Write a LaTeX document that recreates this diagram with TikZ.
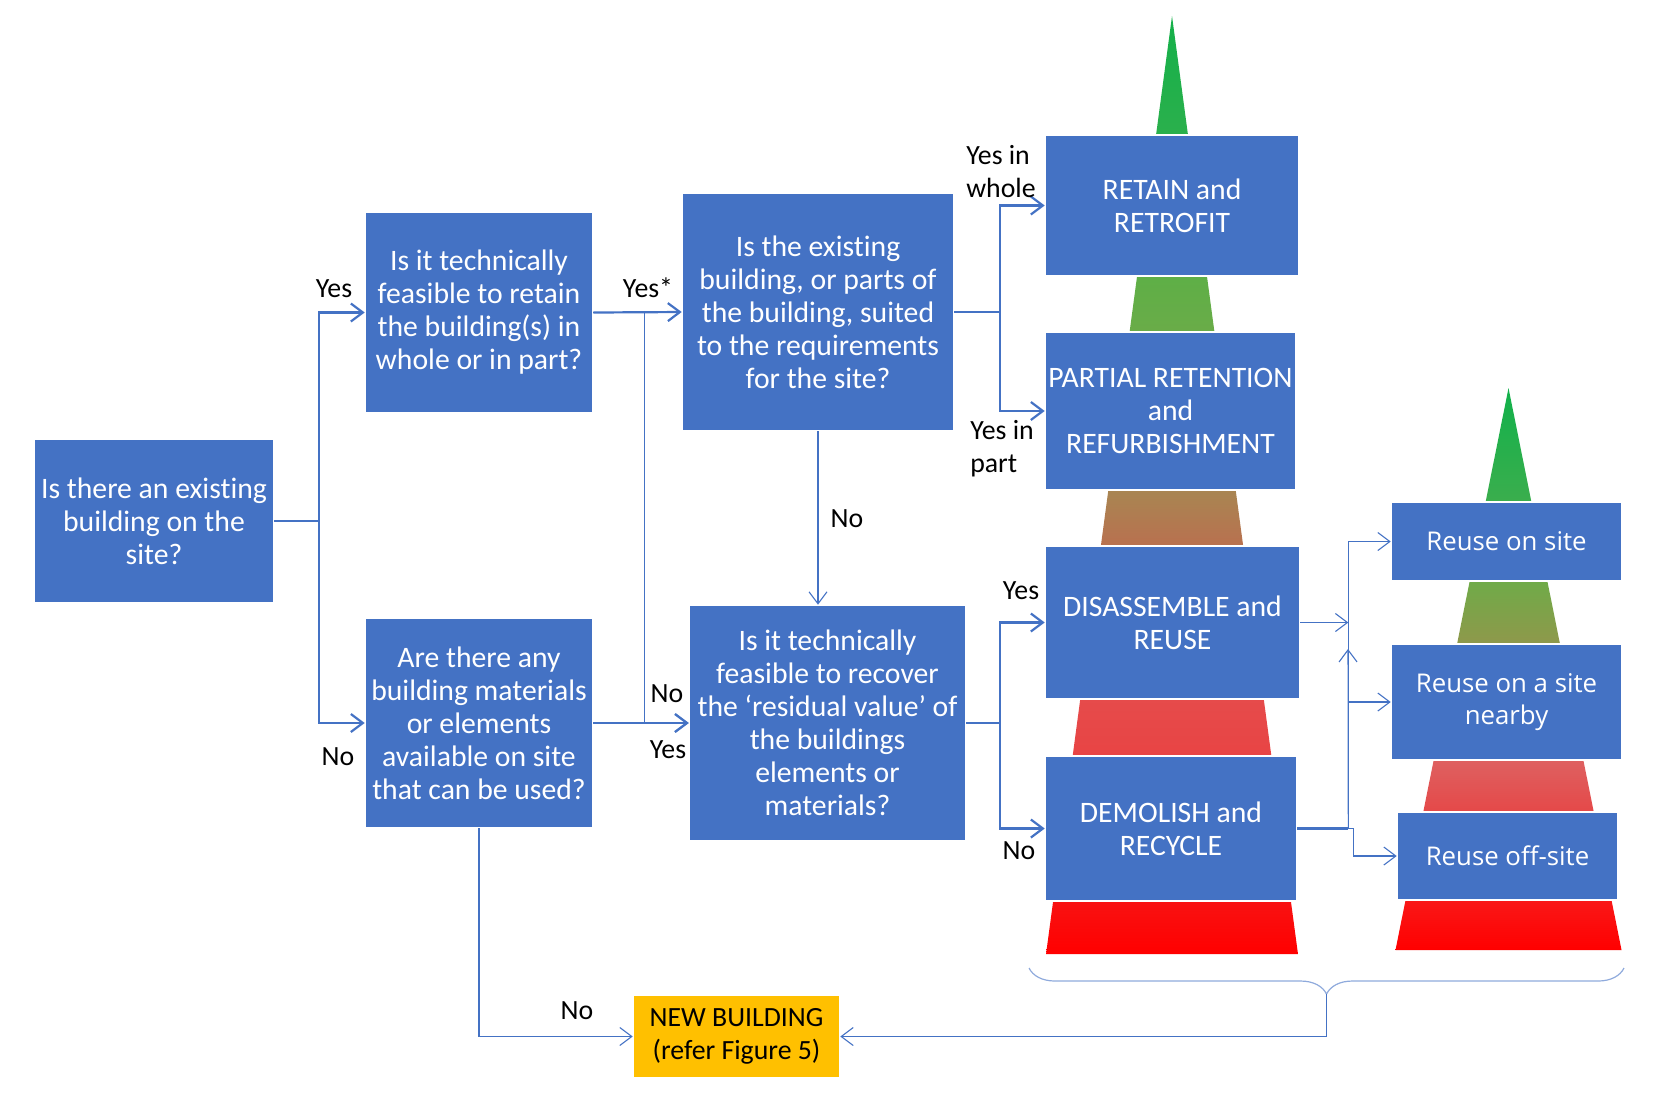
\documentclass[tikz,border=0pt]{standalone}
\usepackage{fontspec}
\setmainfont{Carlito}[Ligatures=NoCommon]
\newfontfamily\reusefont{Open Sans}
\usetikzlibrary{arrows.meta, decorations.pathreplacing}

\definecolor{boxblue}{HTML}{4472C4}
\definecolor{lineblue}{HTML}{4472C4}
\definecolor{braceblue}{HTML}{8FAADC}
\definecolor{newyellow}{HTML}{FFC000}

\begin{document}
\begin{tikzpicture}[x=0.5pt, y=-0.5pt,
  >={Straight Barb[length=6pt,width=9pt]},
  qbox/.style={fill=boxblue, draw=black!15, double=white, double distance=0.8pt, line width=0.3pt,
    text=white, align=center, inner sep=0pt, font=\fontsize{14.85}{16.5}\selectfont},
  rbox/.style={qbox, font=\reusefont\fontsize{12.9}{16}\selectfont},
  nbox/.style={qbox, fill=newyellow, text=black, font=\fontsize{13.9}{16.5}\selectfont},
  lbl/.style={inner sep=0pt, align=left, font=\fontsize{13.9}{16.5}\selectfont},
  flow/.style={draw=lineblue, line width=1.1pt},
  thinflow/.style={draw=lineblue, line width=0.55pt},
  bracket/.style={draw=braceblue, line width=0.6pt, decorate, decoration={brace, mirror, amplitude=13pt}}]
\useasboundingbox (0,0) rectangle (1668,1100);

% pyramids behind the boxes
\foreach \ya/\yb/\ct/\cb in {16/136/14B04A/2BB04C, 275/333/5EAF47/6AAC48, 489/547/A88652/B9704F,
    698/757/E64B4B/E84444, 900/954/F81212/FF0000}{
  \definecolor{segtop}{HTML}{\ct}\definecolor{segbot}{HTML}{\cb}
  \shade[top color=segtop, bottom color=segbot]
    ({1172-0.1343*(\ya-16)},\ya) -- ({1172+0.1343*(\ya-16)},\ya)
    -- ({1172+0.1343*(\yb-16)},\yb) -- ({1172-0.1343*(\yb-16)},\yb) -- cycle;
}
\foreach \ya/\yb/\ct/\cb in {388/503/11B14B/3BAE4D, 580/645/6FAB48/8F984B,
    759/813/DE6161/E54848, 899/950/F91818/FF0000}{
  \definecolor{segtop}{HTML}{\ct}\definecolor{segbot}{HTML}{\cb}
  \shade[top color=segtop, bottom color=segbot]
    ({1508.5-0.2011*(\ya-388)},\ya) -- ({1508.5+0.2011*(\ya-388)},\ya)
    -- ({1508.5+0.2011*(\yb-388)},\yb) -- ({1508.5-0.2011*(\yb-388)},\yb) -- cycle;
}

% questions
\node[qbox, minimum width=120pt, minimum height=82pt] (exist) at (154,521)
  {Is there an existing\\building on the\\site?};
\node[qbox, minimum width=114pt, minimum height=100.5pt] (retain) at (479,312.5)
  {Is it technically\\feasible to retain\\the building(s) in\\whole or in part?};
\node[qbox, minimum width=136pt, minimum height=119pt] (suited) at (818,312)
  {Is the existing\\building, or parts of\\the building, suited\\to the requirements\\for the site?};
\node[qbox, minimum width=114pt, minimum height=105pt] (materials) at (479,723)
  {Are there any\\building materials\\or elements\\available on site\\that can be used?};
\node[qbox, minimum width=138.5pt, minimum height=118pt] (recover) at (827.5,723)
  {Is it technically\\feasible to recover\\the ‘residual value’ of\\the buildings\\elements or\\materials?};

% outcomes
\node[qbox, minimum width=127pt, minimum height=70.5pt] (retrofit) at (1172,205.5) {RETAIN and\\RETROFIT};
\node[qbox, minimum width=125.5pt, minimum height=79pt] (partial) at (1170.5,411)
  {PARTIAL RETENTION\\and\\REFURBISHMENT};
\node[qbox, minimum width=127.5pt, minimum height=76.5pt] (disassemble) at (1172.5,622.5) {DISASSEMBLE and\\REUSE};
\node[qbox, minimum width=126pt, minimum height=72.5pt] (demolish) at (1171,828.5) {DEMOLISH and\\RECYCLE};
\node[rbox, minimum width=115.5pt, minimum height=39.5pt] (onsite) at (1506.5,541.5) {Reuse on site};
\node[rbox, minimum width=115.5pt, minimum height=58pt] (nearby) at (1506.5,702) {Reuse on a site\\nearby};
\node[rbox, minimum width=110.5pt, minimum height=44pt] (offsite) at (1507.5,856) {Reuse off-site};
\node[nbox, minimum width=103.5pt, minimum height=41.5pt] (newbuild) at (736.5,1036.5)
  {NEW BUILDING\\(refer Figure 5)};

% connectors
\draw[flow,->] (exist.east) -- ++(45,0) |- (retain.west);
\draw[flow,->] (exist.east) -- ++(45,0) |- (materials.west);
\draw[flow,->] (retain.east) -- (suited.west);
\draw[draw=lineblue, line width=0.8pt,->] (retain.east) -- ++(51,0) |- (recover.west);
\draw[flow,->] (materials.east) -- (recover.west);
\draw[thinflow,->] (suited.south) -- (suited.south |- recover.north);
\draw[flow,->] (suited.east) -- ++(46,0) |- (retrofit.west);
\draw[flow,->] (suited.east) -- ++(46,0) |- (partial.west);
\draw[flow,->] (recover.east) -- ++(34,0) |- (disassemble.west);
\draw[flow,->] (recover.east) -- ++(34,0) |- (demolish.west);

\draw[flow] (demolish.east) -- ++(51,0) coordinate (hub);
\coordinate (uptip) at (1348,649);
\draw[thinflow,->] (disassemble.east) -- (disassemble.east -| hub);
\draw[thinflow,->] (hub) |- (onsite.west);
\draw[thinflow,->] (hub) |- (nearby.west);
\draw[thinflow,->] (hub) -- (uptip);
\draw[thinflow,->] (hub) -- ++(5,0) |- (offsite.west);

\coordinate (brl) at (1029,968);
\coordinate (brr) at (1624,968);
\coordinate (brtip) at (1326.5,994);
\draw[bracket] (brl) -- (brr);
\draw[thinflow,->] (brtip) |- (newbuild.east);
\draw[thinflow,->] (materials.south) |- (newbuild.west);

% answers
\node[lbl] (yes1) at (334,289) {Yes};
\node[lbl] (no1) at (338,757) {No};
\node[lbl] (yes2) at (648,288) {Yes*};
\node[lbl] (no2) at (667,694) {No};
\node[lbl] (yes3) at (668,750) {Yes};
\node[lbl] (no3) at (847,519) {No};
\node[lbl] (yeswhole) at (1001,172) {Yes in\\whole};
\node[lbl] (yespart) at (1002,449) {Yes in\\part};
\node[lbl] (yes4) at (1021,591) {Yes};
\node[lbl] (no4) at (1019,851) {No};
\node[lbl] (no5) at (577,1011) {No};
\end{tikzpicture}
\end{document}
